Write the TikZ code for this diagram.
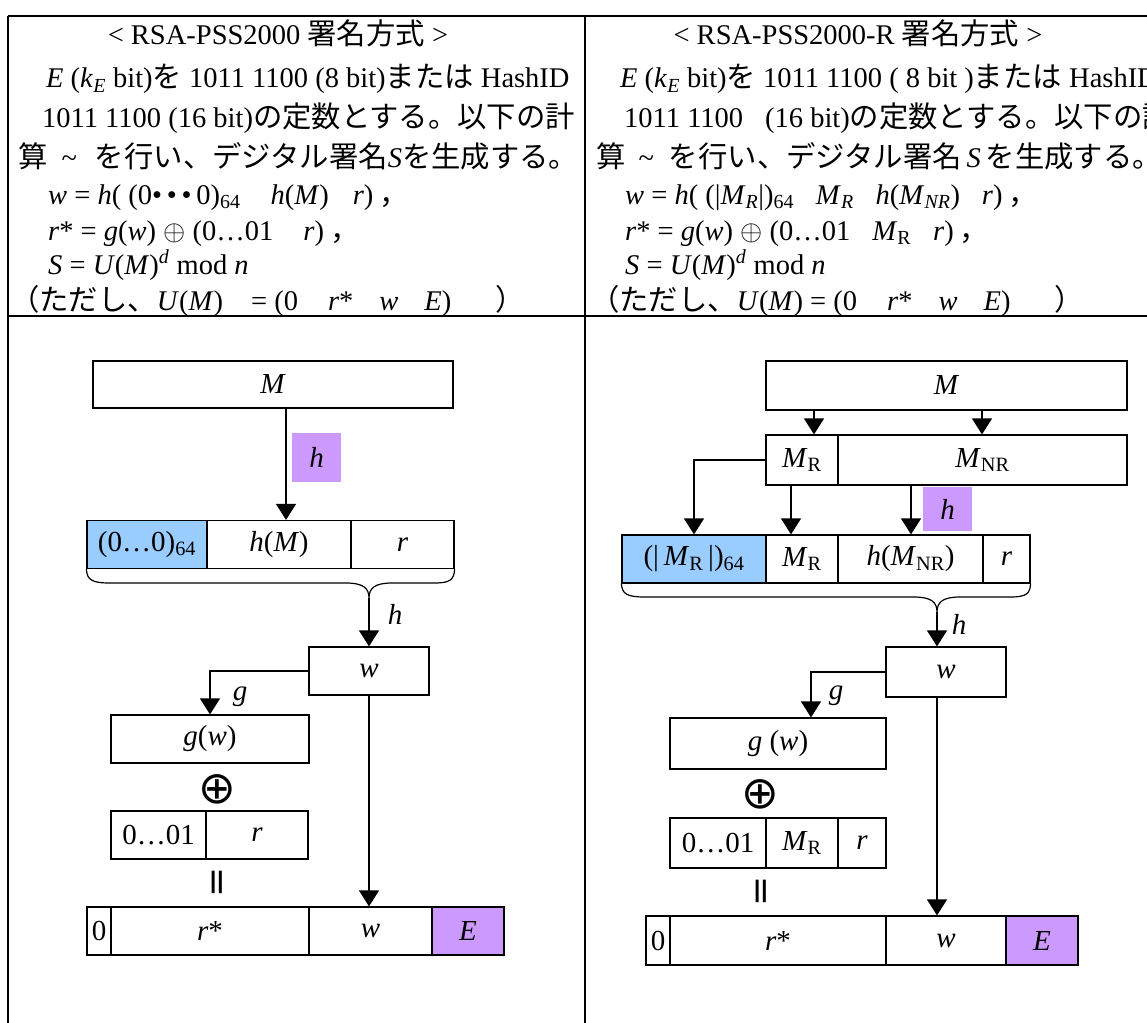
\documentclass[tikz,border=0pt]{standalone}
\usepackage{fix-cm}
\usepackage{fontspec}
\setmainfont{Liberation Serif}
\newfontfamily\cjk[Scale=1.03]{Noto Sans CJK JP}
\newfontfamily\dvs{DejaVu Sans}
\usetikzlibrary{arrows.meta}
\definecolor{hblue}{HTML}{99CCFF}
\definecolor{hpurp}{HTML}{CC99FF}
\newcommand{\iv}[1]{\textit{#1}}
\newcommand{\mysub}[1]{\textsubscript{#1}}
\begin{document}
\begin{tikzpicture}[x=1pt,y=-1pt,
  hd/.style={font=\fontsize{28.5}{28.5}\selectfont, inner sep=0pt},
  hl/.style={hd, anchor=base west},
  df/.style={font=\fontsize{29}{29}\selectfont, inner sep=0pt},
  cell/.style={df, draw, line width=1.2pt, minimum height=48pt},
  hbx/.style={df, fill=hpurp, minimum width=49pt, minimum height=49pt},
  tbl/.style={line width=2.2pt},
  arr/.style={line width=1.2pt, -{Triangle[length=16pt,width=20pt]}},
  brc/.style={line width=1.2pt},
  opl/.style={inner sep=0pt, font=\fontsize{45}{45}\selectfont\dvs},
  eqs/.style={inner sep=0pt, rotate=90, font=\fontsize{36}{36}\selectfont\dvs}]
\useasboundingbox (0,0) rectangle (1147,1022);
\fill[white] (0,0) rectangle (1147,1022);
% table
\draw[tbl] (8,16) -- (1170,16);
\draw[tbl] (8,16) -- (8,1040);
\draw[tbl] (585,16) -- (585,1040);
\draw[tbl] (8,316) -- (1170,316);
% ---------- left header
\node[hd, anchor=base] (t1) at (278,45) {< RSA-PSS2000 {\cjk 署名方式} >};
\node[hl] (l2) at (46,88) {\iv{E} (\iv{k}\mysub{\iv{E}} bit){\cjk を} 1011 1100 (8 bit){\cjk または} HashID};
\node[hl] (l3) at (42,128) {1011 1100 (16 bit){\cjk の定数とする。以下の計}};
\node[hl] (l4) at (18,167) {{\cjk 算}\hspace{14pt}\textasciitilde\hspace{18pt}{\cjk を行い、デジタル署名}\iv{S}{\cjk を生成する。}};
\node[hl] (f1) at (48,204) {\iv{w} = \iv{h}( (0•\,•\,•\,0)\mysub{64}\hspace{30pt}\iv{h}(\iv{M})\hspace{24pt}\iv{r})\hspace{6pt}{\cjk ，}};
\node[hl] (f2) at (48,240) {\iv{r}* = \iv{g}(\iv{w}) $\oplus$ (0…01\hspace{30pt}\iv{r})\hspace{6pt}{\cjk ，}};
\node[hl] (f3) at (48,274) {\iv{S} = \iv{U}(\iv{M})\textsuperscript{\iv{d}} mod \iv{n}};
\node[hl] (f4) at (10,310) {{\cjk （ただし、}\iv{U}(\iv{M})\hspace{28pt}= (0\hspace{30pt}\iv{r}*\hspace{26pt}\iv{w}\hspace{26pt}\iv{E})\hspace{44pt}{\cjk ）}};
% ---------- right header
\node[hd, anchor=base] (t2) at (858,45) {< RSA-PSS2000-R {\cjk 署名方式} >};
\node[hl] (r2) at (620,88) {\iv{E} (\iv{k}\mysub{\iv{E}} bit){\cjk を} 1011 1100 ( 8 bit ){\cjk または} HashID};
\node[hl] (r3) at (624,128) {1011 1100\hspace{22pt}(16 bit){\cjk の定数とする。以下の計}};
\node[hl] (r4) at (596,167) {{\cjk 算}\hspace{13pt}\textasciitilde\hspace{15pt}{\cjk を行い、デジタル署名}\,\iv{S}\,{\cjk を生成する。}};
\node[hl] (g1) at (625,204) {\iv{w} = \iv{h}( (|\iv{M}\mysub{\iv{R}}|)\mysub{64}\hspace{22pt}\iv{M}\mysub{\iv{R}}\hspace{22pt}\iv{h}(\iv{M}\mysub{\iv{NR}})\hspace{22pt}\iv{r})\hspace{6pt}{\cjk ，}};
\node[hl] (g2) at (625,240) {\iv{r}* = \iv{g}(\iv{w}) $\oplus$ (0…01\hspace{22pt}\iv{M}\mysub{R}\hspace{22pt}\iv{r})\hspace{6pt}{\cjk ，}};
\node[hl] (g3) at (625,274) {\iv{S} = \iv{U}(\iv{M})\textsuperscript{\iv{d}} mod \iv{n}};
\node[hl] (g4) at (590,310) {{\cjk （ただし、}\iv{U}(\iv{M}) = (0\hspace{30pt}\iv{r}*\hspace{26pt}\iv{w}\hspace{26pt}\iv{E})\hspace{44pt}{\cjk ）}};
% ---------- left diagram
\node[cell, minimum width=360pt, minimum height=47pt] (ML) at (273,384.5) {\iv{M}};
\node[hbx] (hL) at (316.5,457.5) {\iv{h}};
\node[cell, fill=hblue, minimum width=120pt] (zL) at (147,544.5) {(0…0)\mysub{64}};
\node[cell, minimum width=144pt] (hmL) at (279,544.5) {\iv{h}(\iv{M})};
\node[cell, minimum width=103pt] (rL) at (402.5,544.5) {\iv{r}};
\node[cell, minimum width=120pt] (wL) at (369,671) {\iv{w}};
\node[df] (hL2) at (395,614) {\iv{h}};
\node[cell, minimum width=198pt] (gwL) at (210,739) {\iv{g}(\iv{w})};
\node[df] (gL) at (240,697) {\iv{g}};
\node[opl] (opL) at (217,789) {⊕};
\node[cell, minimum width=95pt] (oneL) at (158.5,835) {0…01};
\node[cell, minimum width=102pt] (rrL) at (257,835) {\iv{r}};
\node[eqs] (eqL) at (220,882) {=};
\node[cell, minimum width=24pt] (b0L) at (99,931) {0};
\node[cell, minimum width=198pt] (brL) at (210,931) {\iv{r}*};
\node[cell, minimum width=123pt] (bwL) at (370.5,931) {\iv{w}};
\node[cell, fill=hpurp, minimum width=72pt] (bEL) at (468,931) {\iv{E}};
\coordinate (axL) at (286,0);
\draw[arr] (ML.south -| axL) -- (hmL.north -| axL);
\draw[brc] (zL.south west) .. controls (87,580) and (92,583) .. (110,583) -- (346,583) .. controls (363,583) and (369,588) .. (369,598) .. controls (369,588) and (375,583) .. (392,583) -- (434,583) .. controls (450,583) and (454,580) .. (rL.south east);
\coordinate (cL) at (369,598);
\draw[arr] (cL) -- (wL.north);
\draw[arr] (wL.west) -| (gwL.north);
\draw[arr] (wL.south) -- (wL.south |- bwL.north);
% ---------- right diagram
\node[cell, minimum width=361pt, minimum height=49pt] (MR) at (946.5,385.5) {\iv{M}};
\node[cell, minimum width=72pt, minimum height=50pt] (mR) at (802,460) {\iv{M}\mysub{R}};
\node[cell, minimum width=289pt, minimum height=50pt] (mNR) at (982.5,460) {\iv{M}\mysub{NR}};
\node[hbx, minimum height=44pt] (hR) at (947.5,509) {\iv{h}};
\node[cell, fill=hblue, minimum width=144pt] (zR) at (694,559) {(|\,\iv{M}\mysub{R}\,|)\mysub{64}};
\node[cell, minimum width=72pt] (mR2) at (802,559) {\iv{M}\mysub{R}};
\node[cell, minimum width=145pt] (hNR) at (910.5,559) {\iv{h}(\iv{M}\mysub{NR})};
\node[cell, minimum width=47pt] (rR) at (1006.5,559) {\iv{r}};
\node[cell, minimum width=120pt, minimum height=50pt] (wR) at (946,672) {\iv{w}};
\node[df] (hR2) at (959,624) {\iv{h}};
\node[cell, minimum width=216pt, minimum height=51pt] (gwR) at (778,743.5) {\iv{g} (\iv{w})};
\node[df] (gR) at (836,696) {\iv{g}};
\node[opl] (opR) at (760,794) {⊕};
\node[cell, minimum width=96pt, minimum height=50pt] (oneR) at (718,843) {0…01};
\node[cell, minimum width=72pt, minimum height=50pt] (mR3) at (802,843) {\iv{M}\mysub{R}};
\node[cell, minimum width=48pt, minimum height=50pt] (rR3) at (862,843) {\iv{r}};
\node[eqs] (eqR) at (764,891) {=};
\node[cell, minimum width=24pt, minimum height=49pt] (b0R) at (658,940.5) {0};
\node[cell, minimum width=216pt, minimum height=49pt] (brR) at (778,940.5) {\iv{r}*};
\node[cell, minimum width=120pt, minimum height=49pt] (bwR) at (946,940.5) {\iv{w}};
\node[cell, fill=hpurp, minimum width=72pt, minimum height=49pt] (bER) at (1042,940.5) {\iv{E}};
\coordinate (a1R) at (814,0);
\coordinate (a2R) at (982,0);
\coordinate (a3R) at (791,0);
\coordinate (a4R) at (911,0);
\coordinate (a5R) at (937,0);
\coordinate (a6R) at (811,0);
\draw[arr] (MR.south -| a1R) -- (mR.north -| a1R);
\draw[arr] (MR.south -| a2R) -- (mNR.north -| a2R);
\draw[arr] (mR.west) -| (zR.north);
\draw[arr] (mR.south -| a3R) -- (mR2.north -| a3R);
\draw[arr] (mNR.south -| a4R) -- (hNR.north -| a4R);
\draw[brc] (zR.south west) .. controls (622,594) and (627,597) .. (645,597) -- (914,597) .. controls (931,597) and (937,602) .. (937,612) .. controls (937,602) and (943,597) .. (960,597) -- (1010,597) .. controls (1026,597) and (1030,594) .. (rR.south east);
\coordinate (cR) at (937,612);
\draw[arr] (cR) -- (wR.north -| cR);
\draw[arr] (wR.west) -| (gwR.north -| a6R);
\draw[arr] (wR.south -| a5R) -- (bwR.north -| a5R);
\end{tikzpicture}
\end{document}
